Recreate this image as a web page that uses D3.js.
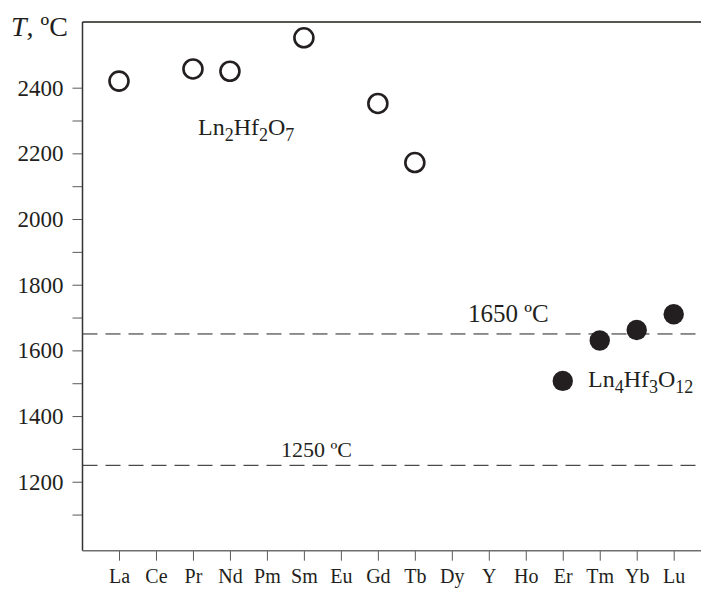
<!DOCTYPE html>
<html lang="en">
    <head>
        <title>Melting temperatures of Ln hafnates</title>
        <script src="https://d3js.org/d3.v7.min.js"></script>
        <style>
            body { margin: 0; background: #fff; }
            text { font-family: 'Liberation Serif', 'Times New Roman', serif; fill: #231f20; }
        </style>
    </head>
    <body>
    <div id="mainDiv"></div>
        <script type="text/javascript">
            // categories along the x axis
            const elements = ['La', 'Ce', 'Pr', 'Nd', 'Pm', 'Sm', 'Eu', 'Gd', 'Tb', 'Dy', 'Y', 'Ho', 'Er', 'Tm', 'Yb', 'Lu']

            // Ln2Hf2O7 (open circles)
            const pyroNames = ['La', 'Pr', 'Nd', 'Sm', 'Gd', 'Tb']
            const pyroTemps = [2420, 2457, 2450, 2552, 2352, 2172]

            // Ln4Hf3O12 (filled circles)
            const deltaNames = ['Er', 'Tm', 'Yb', 'Lu']
            const deltaTemps = [1507, 1630, 1662, 1710]

            const majorTicks = [1200, 1400, 1600, 1800, 2000, 2200, 2400]
            const minorTicks = [1100, 1300, 1500, 1700, 1900, 2100, 2300]
            const refLines = [1650, 1250]

            const width = 701
            const height = 590

            const svg = d3.select('#mainDiv').append('svg')
                .attr('width', width)
                .attr('height', height)

            const x = d3.scalePoint()
                .domain(elements)
                .range([119, 673.7])

            const y = d3.scaleLinear()
                .domain([990, 2600])
                .range([550.7, 22])

            const left = 82.5
            const axisColor = '#5a5a5a'

            // dashed reference lines
            svg.selectAll('line.ref')
                .data(refLines)
                .join('line')
                .attr('class', 'ref')
                .attr('x1', left).attr('x2', width)
                .attr('y1', d => y(d)).attr('y2', d => y(d))
                .attr('stroke', '#231f20')
                .attr('stroke-width', 1)
                .attr('stroke-dasharray', '15,8')

            // y axis, labelled + minor ticks
            const yAxis = svg.append('g')
                .attr('transform', `translate(${left},0)`)
                .call(d3.axisLeft(y).tickValues(majorTicks).tickFormat(d3.format('d'))
                    .tickSize(10).tickPadding(9).tickSizeOuter(0))
            yAxis.select('.domain').remove()
            yAxis.selectAll('.tick line').attr('stroke', axisColor)
            yAxis.selectAll('text').attr('font-size', 23).attr('fill', '#231f20')
                .attr('font-family', "'Liberation Serif', serif")

            svg.append('g')
                .attr('transform', `translate(${left},0)`)
                .call(d3.axisLeft(y).tickValues(minorTicks).tickSize(10).tickFormat('').tickSizeOuter(0))
                .call(g => g.select('.domain').remove())
                .selectAll('.tick line').attr('stroke', axisColor)

            // x axis
            const xAxis = svg.append('g')
                .attr('transform', `translate(0,${y.range()[0]})`)
                .call(d3.axisBottom(x).tickSize(10).tickPadding(8).tickSizeOuter(0))
            xAxis.select('.domain').remove()
            xAxis.selectAll('.tick line').attr('stroke', axisColor)
            xAxis.selectAll('text').attr('font-size', 20).attr('fill', '#231f20')
                .attr('font-family', "'Liberation Serif', serif")

            // frame lines: left, bottom, top
            svg.append('line')
                .attr('x1', left).attr('x2', left)
                .attr('y1', y.range()[1]).attr('y2', y.range()[0])
                .attr('stroke', '#333').attr('stroke-width', 1.5)
            svg.append('line')
                .attr('x1', left).attr('x2', width)
                .attr('y1', y.range()[0]).attr('y2', y.range()[0])
                .attr('stroke', '#6e6e6e').attr('stroke-width', 1.5)
            svg.append('line')
                .attr('x1', left).attr('x2', width)
                .attr('y1', y.range()[1]).attr('y2', y.range()[1])
                .attr('stroke', '#1e1e1a').attr('stroke-width', 1.5)

            // points
            svg.selectAll('circle.open')
                .data(pyroNames)
                .join('circle')
                .attr('class', 'open')
                .attr('cx', d => x(d))
                .attr('cy', (d, i) => y(pyroTemps[i]))
                .attr('r', 9.5)
                .attr('fill', '#fff')
                .attr('stroke', '#231f20')
                .attr('stroke-width', 2.6)

            svg.selectAll('circle.filled')
                .data(deltaNames)
                .join('circle')
                .attr('class', 'filled')
                .attr('cx', d => x(d))
                .attr('cy', (d, i) => y(deltaTemps[i]))
                .attr('r', 10.2)
                .attr('fill', '#231f20')

            // texts
            const yTitle = svg.append('text').attr('x', 11).attr('y', 36).attr('font-size', 28)
            yTitle.append('tspan').attr('font-style', 'italic').text('T')
            yTitle.append('tspan').text(', \u00baC')

            svg.append('text').attr('x', 468).attr('y', 322).attr('font-size', 25).text('1650 \u00baC')
            svg.append('text').attr('x', 281).attr('y', 457).attr('font-size', 22).text('1250 \u00baC')

            function formula(xPos, yPos, size, parts) {
                const t = svg.append('text').attr('x', xPos).attr('y', yPos).attr('font-size', size)
                parts.forEach(p => {
                    const s = t.append('tspan').text(p[0])
                    if (p[1]) s.attr('font-size', Math.round(size * 0.75)).attr('dy', 6)
                    else s.attr('dy', p[2] || 0)
                })
            }
            formula(198, 135, 24, [['Ln'], ['2', true], ['Hf', false, -6], ['2', true], ['O', false, -6], ['7', true]])
            formula(588, 387, 24, [['Ln'], ['4', true], ['Hf', false, -6], ['3', true], ['O', false, -6], ['12', true]])
        </script>
    </body>
</html>
